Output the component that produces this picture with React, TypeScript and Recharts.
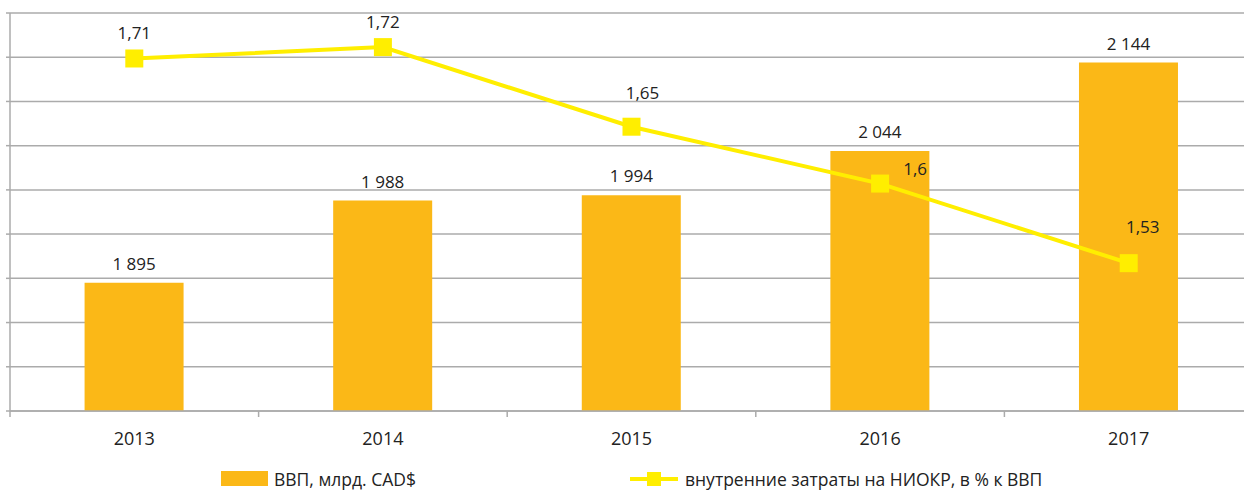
import {
  Bar,
  CartesianGrid,
  ComposedChart,
  LabelList,
  Legend,
  Line,
  XAxis,
  YAxis,
} from "recharts";

const years = ["2013", "2014", "2015", "2016", "2017"];
const gdp = [1895, 1988, 1994, 2044, 2144];
const rdShare = [1.71, 1.72, 1.65, 1.6, 1.53];
const gdpTicks = [1750, 1800, 1850, 1900, 1950, 2000, 2050, 2100, 2150, 2200];

const gdpName = "ВВП, млрд. CAD$";
const rdName = "внутренние затраты на НИОКР, в % к ВВП";

const data = years.map((year, i) => ({ year, gdp: gdp[i], rd: rdShare[i] }));

const BAR = "#FBB817";
const LINE = "#FFEE00";
const GRID = "#ABABAB";
const TEXT = "#222222";
const FONT = "'Open Sans', sans-serif";

// label nudges for the line values (Excel had them hand-placed)
const lineLabelNudge = [
  { dx: 0, dy: -26 },
  { dx: 0, dy: -26 },
  { dx: 11, dy: -34 },
  { dx: 35, dy: -15 },
  { dx: 14, dy: -37 },
];

const fmtGdp = (v: number) => {
  const s = String(v);
  return s.length > 3 ? s.slice(0, s.length - 3) + " " + s.slice(-3) : s;
};
const fmtPct = (v: number) => String(v).replace(".", ",");

function CategoryTick(props: any) {
  const { x, y, payload } = props;
  const half = payload?.offset ?? 124;
  return (
    <g>
      <line x1={x - half} x2={x - half} y1={y} y2={y + 6} stroke={GRID} strokeWidth={1.5} />
      <text x={x} y={y + 27} textAnchor="middle" dominantBaseline="central" fill={TEXT} fontSize={18} fontFamily={FONT}>
        {payload.value}
      </text>
    </g>
  );
}

function LineValueLabel(props: any) {
  const { x, y, value, index } = props;
  const n = lineLabelNudge[index] ?? { dx: 0, dy: -26 };
  return (
    <text x={x + n.dx} y={y + n.dy} textAnchor="middle" dominantBaseline="central" fill={TEXT} fontSize={17} fontFamily={FONT}>
      {fmtPct(value)}
    </text>
  );
}

function SquareDot(props: any) {
  const { cx, cy } = props;
  if (cx == null || cy == null) return null;
  return <rect x={cx - 9} y={cy - 9} width={18} height={18} fill={LINE} />;
}

function LegendContent() {
  const textStyle = {
    position: "absolute" as const,
    top: 17,
    fontFamily: FONT,
    fontSize: 17.5,
    color: TEXT,
    lineHeight: "24px",
    whiteSpace: "nowrap" as const,
  };
  return (
    <div style={{ position: "relative", height: 40, width: 1260 }}>
      <div style={{ position: "absolute", left: 221, top: 21, width: 47, height: 15, background: BAR }} />
      <div style={{ ...textStyle, left: 274 }}>{gdpName}</div>
      <div style={{ position: "absolute", left: 630, top: 27, width: 48, height: 4, background: LINE }} />
      <div style={{ position: "absolute", left: 647, top: 22, width: 14, height: 14, background: LINE }} />
      <div style={{ ...textStyle, left: 685 }}>{rdName}</div>
    </div>
  );
}

export default function App() {
  return (
    <div style={{ position: "absolute", left: 0, top: 0, width: 1244, height: 490, overflow: "hidden", background: "#fff" }}>
      <ComposedChart
        width={1260}
        height={490}
        data={data}
        margin={{ top: 13, right: 7, left: 0, bottom: 0 }}
        barCategoryGap="30%"
      >
        <CartesianGrid yAxisId="left" vertical={false} stroke={GRID} strokeWidth={1.5} />
        <XAxis
          dataKey="year"
          height={39}
          tickSize={0}
          tickMargin={0}
          tickLine={false}
          axisLine={{ stroke: GRID, strokeWidth: 1.5 }}
          tick={<CategoryTick />}
          interval={0}
        />
        <YAxis
          yAxisId="left"
          width={10}
          domain={[1750, 2200]}
          ticks={gdpTicks}
          tickSize={4}
          tickLine={{ stroke: GRID, strokeWidth: 1.5 }}
          axisLine={{ stroke: GRID, strokeWidth: 1.5 }}
          tick={() => <g />}
          allowDataOverflow
        />
        <YAxis yAxisId="right" orientation="right" hide domain={[1.4, 1.75]} allowDataOverflow />
        <Legend verticalAlign="bottom" height={40} wrapperStyle={{ left: 0, width: 1260 }} content={<LegendContent />} />
        <Bar yAxisId="left" dataKey="gdp" name={gdpName} fill={BAR} isAnimationActive={false}>
          <LabelList
            dataKey="gdp"
            position="top"
            offset={13}
            formatter={(v: any) => fmtGdp(Number(v))}
            fill={TEXT}
            fontSize={17}
            fontFamily={FONT}
          />
        </Bar>
        <Line
          yAxisId="right"
          dataKey="rd"
          name={rdName}
          stroke={LINE}
          strokeWidth={4}
          dot={<SquareDot />}
          activeDot={false}
          isAnimationActive={false}
        >
          <LabelList dataKey="rd" content={<LineValueLabel />} />
        </Line>
      </ComposedChart>
    </div>
  );
}
